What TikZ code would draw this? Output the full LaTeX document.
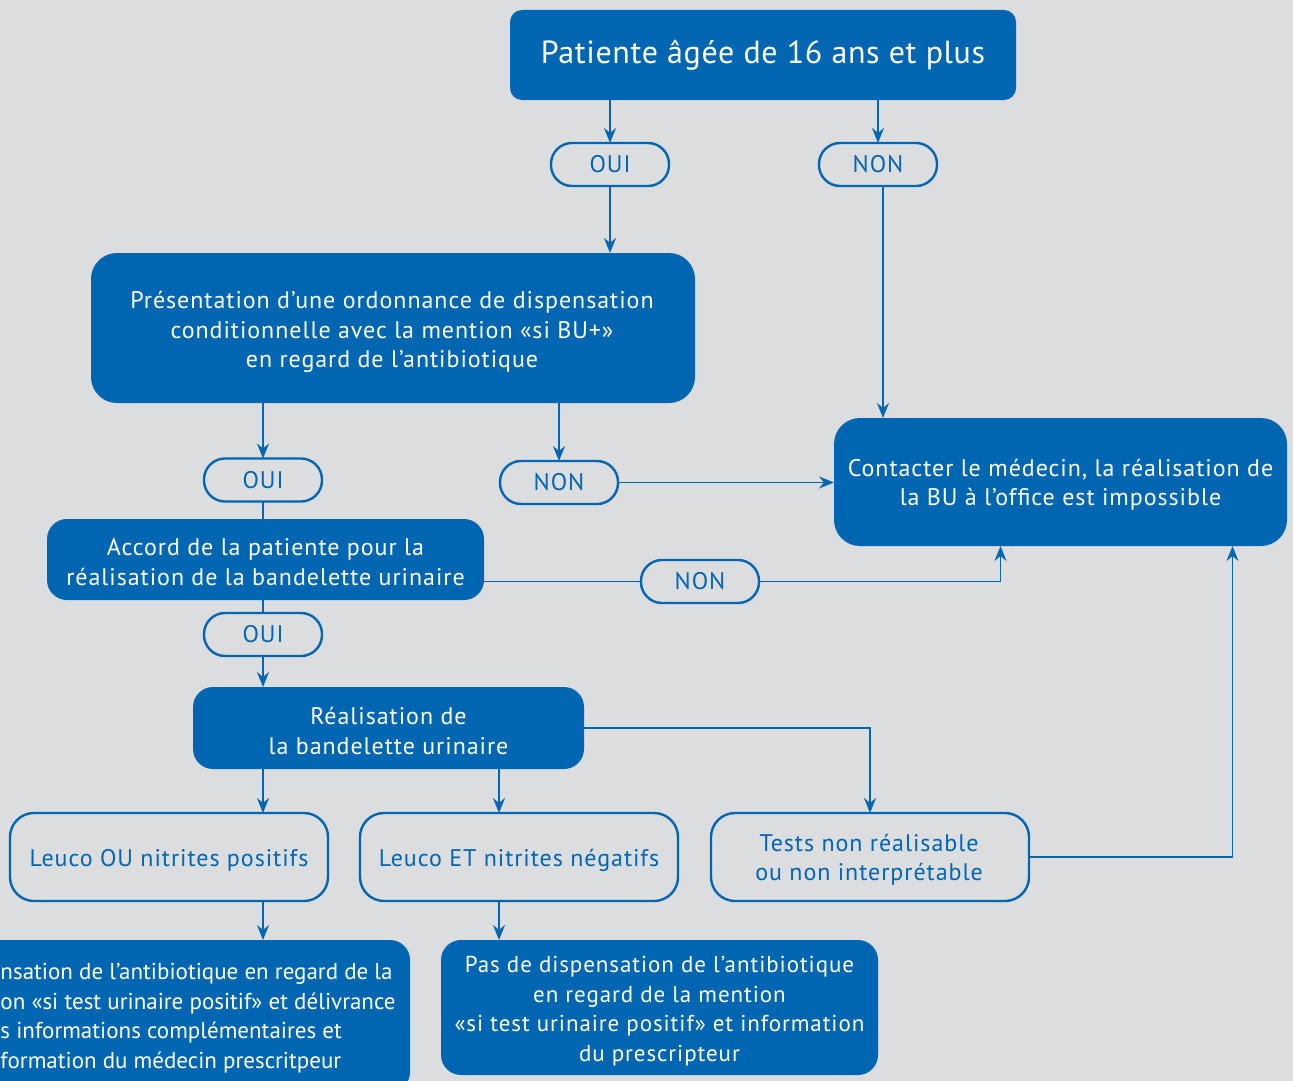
\documentclass[tikz,border=0pt]{standalone}
\usepackage{fontspec}
\setmainfont{PT Sans}[LetterSpace=4]
\newfontfamily\titlefont{PT Sans}[LetterSpace=2]
\newfontfamily\plainfont{PT Sans}
\usetikzlibrary{arrows.meta}
\definecolor{bg}{RGB}{220,221,223}
\definecolor{bl}{RGB}{0,102,178}
\begin{document}
\begin{tikzpicture}[x=1pt,y=-1pt,
  every node/.style={inner sep=0pt, outer sep=0pt, align=center},
  txt/.style={font=\fontsize{24}{29.5}\selectfont},
  smalltxt/.style={font=\fontsize{23}{29.5}\selectfont},
  solidbox/.style={fill=bl, text=white, rounded corners=#1, txt},
  solidbox/.default=20pt,
  pill/.style={draw=bl, line width=2.4pt, fill=bg, text=bl, rounded corners=21pt,
    minimum width=118pt, minimum height=43pt, font=\fontsize{24}{26}\selectfont},
  outbox/.style={draw=bl, line width=2.4pt, fill=bg, text=bl, rounded corners=24pt,
    minimum width=318pt, minimum height=88pt, txt},
  conn/.style={draw=bl, line width=1.8pt},
  arr/.style={conn, -{Stealth[length=15pt,width=12pt,inset=5pt]}}]
\useasboundingbox (0,0) rectangle (1293,1081);
\clip (0,0) rectangle (1293,1081);
\fill[bg] (0,0) rectangle (1293,1081);

% nodes
\node[solidbox=12pt, minimum width=506pt, minimum height=90pt,
  font=\titlefont\fontsize{32}{36}\selectfont] (top) at (763,55) {Patiente âgée de 16 ans et plus};
\node[pill] (oui1) at (610,164.5) {OUI};
\node[pill] (non1) at (878,164.5) {NON};
\node[solidbox=26pt, minimum width=604pt, minimum height=150pt] (pres) at (393,328) {};
\node[text=white, txt] (prestext) at (392,332)
  {Présentation d’une ordonnance de dispensation\\conditionnelle avec la mention «si BU+»\\en regard de l’antibiotique};
\node[solidbox=26pt, minimum width=453pt, minimum height=128pt] (contact) at (1060.5,482) {};
\node[text=white, txt] (contacttext) at (1060.5,485)
  {Contacter le médecin, la réalisation de\\la BU à l’office est impossible};
\node[pill] (oui2) at (263,480) {OUI};
\node[pill] (non2) at (559,482.5) {NON};
\node[solidbox=20pt, minimum width=437pt, minimum height=81pt] (accord) at (265.5,559.5) {};
\node[text=white, txt] (accordtext) at (265.5,562)
  {Accord de la patiente pour la\\réalisation de la bandelette urinaire};
\node[pill] (non3) at (700,581.5) {NON};
\node[pill] (oui3) at (263,634.5) {OUI};
\node[solidbox=20pt, minimum width=391pt, minimum height=82pt] (real) at (388.5,728) {};
\node[text=white, txt] (realtext) at (388.5,731) {Réalisation de\\la bandelette urinaire};
\node[outbox] (leuco1) at (169,857) {};
\node[text=bl, txt] (leuco1text) at (169,860) {Leuco OU nitrites positifs};
\node[outbox] (leuco2) at (519,857) {};
\node[text=bl, txt] (leuco2text) at (519,860) {Leuco ET nitrites négatifs};
\node[outbox] (tests) at (870,857) {};
\node[text=bl, txt] (teststext) at (869,860) {Tests non réalisable\\ou non interprétable};
\node[solidbox=20pt, minimum width=480pt, minimum height=152pt] (disp) at (170,1016) {};
\node[text=white, font=\plainfont\fontsize{23}{29.5}\selectfont, align=left, anchor=west] (disptext) at (0.5,1018)
  {nsation de l’antibiotique en regard de la\\on «si test urinaire positif» et délivrance\\s informations complémentaires et\\formation du médecin prescritpeur};
\node[solidbox=20pt, minimum width=437pt, minimum height=135pt] (pasdisp) at (659.5,1007.5) {};
\node[text=white, smalltxt] (pasdisptext) at (659.5,1011)
  {Pas de dispensation de l’antibiotique\\en regard de la mention\\«si test urinaire positif» et information\\du prescripteur};

% connectors
\draw[arr] (top.south -| oui1) -- (oui1.north);
\draw[arr] (top.south -| non1) -- (non1.north);
\draw[arr] (oui1.south) -- (oui1.south |- pres.north);
\draw[arr] ([xshift=5pt]non1.south) -- ([xshift=5pt]non1.south |- contact.north);
\draw[arr] (pres.south -| oui2) -- (oui2.north);
\draw[arr] (pres.south -| non2) -- (non2.north);
\draw[arr] (non2.east) -- (non2.east -| contact.west);
\draw[conn] (oui2.south) -- (oui2.south |- accord.north);
\draw[conn] (accord.east |- non3) -- (non3.west);
\draw[arr] (non3.east) -| ([xshift=-60pt]contact.south);
\draw[conn] (accord.south -| oui3) -- (oui3.north);
\draw[arr] (oui3.south) -- (oui3.south |- real.north);
\draw[arr] (real.east) -| (tests.north);
\draw[arr] (oui3.south |- real.south) -- (oui3.south |- leuco1.north);
\draw[arr] ([xshift=-20pt]leuco2.north |- real.south) -- ([xshift=-20pt]leuco2.north);
\draw[arr] (tests.east) -| ([xshift=172pt]contact.south);
\draw[arr] (oui3.south |- leuco1.south) -- (oui3.south |- disp.north);
\draw[arr] ([xshift=-20pt]leuco2.south) -- ([xshift=-20pt]leuco2.south |- pasdisp.north);
\end{tikzpicture}
\end{document}
